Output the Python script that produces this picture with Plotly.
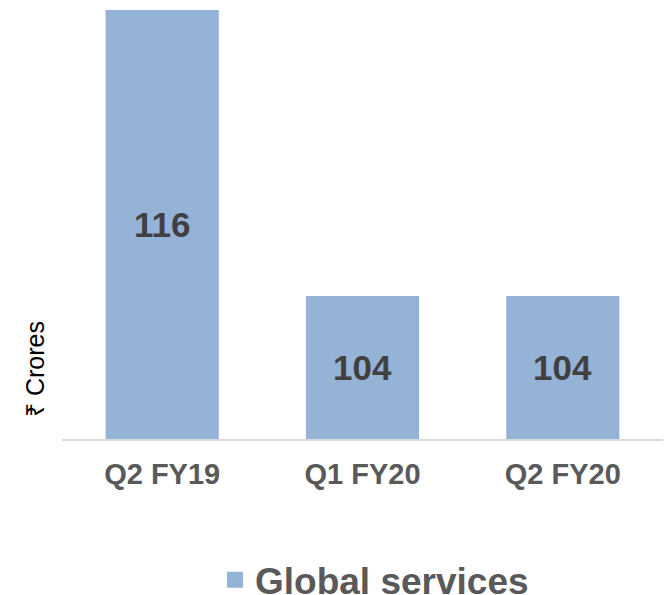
import plotly.graph_objects as go

categories = ["Q2 FY19", "Q1 FY20", "Q2 FY20"]
values = [116, 104, 104]
series_name = "Global services"
y_title = "₹ Crores"
y_min, y_max = 98, 116

bar_color = "#95B3D7"
font_family = "Liberation Sans, Arial, sans-serif"

fig = go.Figure()
fig.add_trace(go.Bar(
    x=categories, y=values, name=series_name,
    marker=dict(color=bar_color, line=dict(width=0)),
    showlegend=False, cliponaxis=True,
))
fig.add_trace(go.Scatter(
    x=[None], y=[None], mode="markers", name=series_name,
    marker=dict(symbol="square", size=18, color=bar_color),
    showlegend=True,
))

annotations = [dict(
    x=c, y=(y_min + v) / 2, text=str(v), showarrow=False,
    xref="x", yref="y", xanchor="center", yanchor="middle",
    font=dict(family=font_family, size=35, color="#404040", weight="bold"),
) for c, v in zip(categories, values)]
annotations.append(dict(
    text=y_title, textangle=-90, xref="paper", yref="paper",
    x=-0.045, y=0.163, xanchor="center", yanchor="middle", showarrow=False,
    font=dict(family=font_family, size=25, color="#000000"),
))

fig.update_layout(
    width=666, height=595,
    margin=dict(l=62, r=3, t=10, b=156, autoexpand=False),
    paper_bgcolor="white", plot_bgcolor="white",
    bargap=0.435,
    font=dict(family=font_family),
    xaxis=dict(
        showline=True, linecolor="#D9D9D9", linewidth=2,
        showgrid=False, ticks="", automargin=False, ticklabelstandoff=8,
        tickfont=dict(family=font_family, size=29, color="#595959", weight="bold"),
    ),
    yaxis=dict(
        range=[y_min, y_max], showgrid=False, showticklabels=False,
        zeroline=False, showline=False, ticks="", automargin=False,
    ),
    legend=dict(
        orientation="h", x=0.52, xanchor="center", y=-0.329, yanchor="middle",
        font=dict(family=font_family, size=37, color="#595959", weight="bold"),
        itemwidth=30,
    ),
    annotations=annotations,
)

fig.write_html("out.html")
